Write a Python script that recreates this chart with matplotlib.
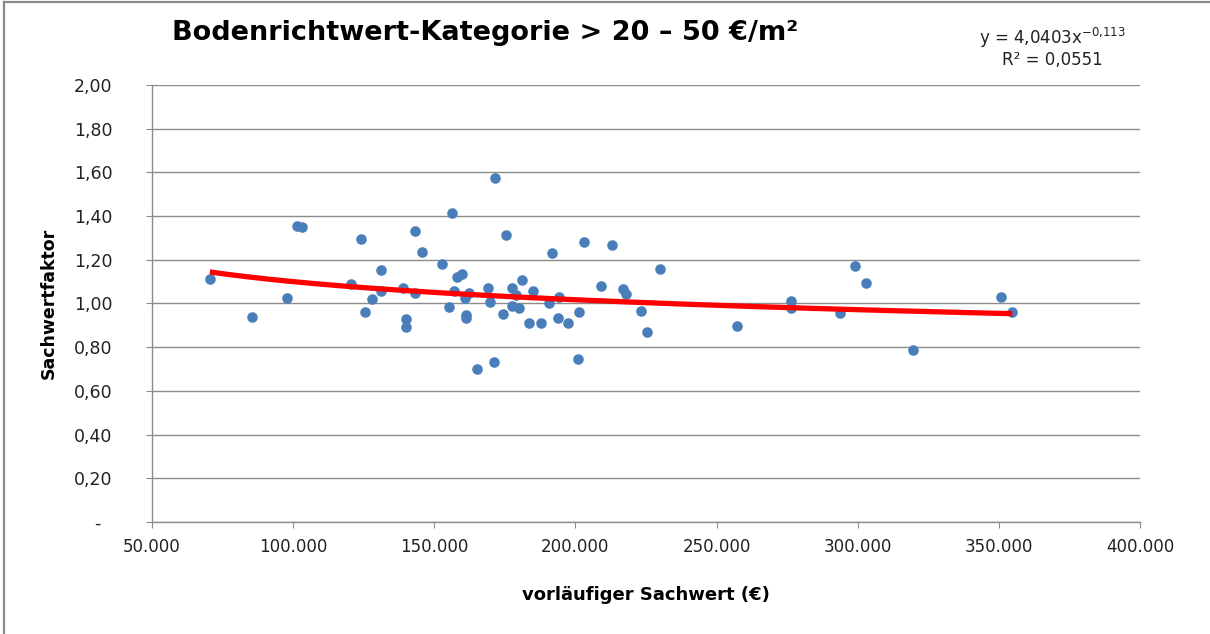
import numpy as np
import matplotlib.pyplot as plt
from matplotlib.ticker import FuncFormatter, MultipleLocator

# vorläufiger Sachwert (EUR) and Sachwertfaktor per Objekt
sachwert = [70500, 85500, 97700, 101200, 103000, 120400, 123900, 125600, 127800,
            131000, 131100, 138800, 140000, 140000, 143200, 143200, 145500, 152600,
            155300, 156100, 157000, 158200, 159700, 160900, 161100, 161200, 162400,
            165200, 169100, 169800, 171100, 171500, 174200, 175400, 177400, 177700,
            179100, 180100, 180900, 183700, 184800, 187800, 190700, 191800, 193900,
            194100, 197400, 200900, 201300, 203200, 209100, 213100, 217000, 217900,
            223400, 225500, 230000, 257200, 276500, 276500, 293700, 299200, 303100,
            319700, 350600, 354800]
faktor = [1.11, 0.94, 1.025, 1.355, 1.35, 1.088, 1.294, 0.96, 1.021,
          1.057, 1.153, 1.072, 0.93, 0.894, 1.33, 1.05, 1.234, 1.182,
          0.985, 1.413, 1.057, 1.123, 1.134, 1.027, 0.932, 0.947, 1.047,
          0.70, 1.069, 1.005, 0.732, 1.573, 0.95, 1.315, 0.989, 1.072,
          1.039, 0.981, 1.108, 0.909, 1.059, 0.909, 1.001, 1.23, 0.935,
          1.031, 0.912, 0.746, 0.96, 1.28, 1.082, 1.269, 1.065, 1.043,
          0.964, 0.868, 1.158, 0.898, 1.013, 0.978, 0.955, 1.173, 1.092,
          0.787, 1.031, 0.961]

# Potenz-Trendlinie y = a * x^b
trend_a = 4.0403
trend_b = -0.113
r2 = 0.0551

title = "Bodenrichtwert-Kategorie > 20 – 50 €/m²"

fig = plt.figure(figsize=(12.1, 6.34), dpi=100)
ax = fig.add_axes([152 / 1210, 112 / 634, 988 / 1210, 437 / 634])

ax.scatter(sachwert, faktor, s=58, color="#4a7ebb", zorder=3, linewidths=0)

xs = np.linspace(min(sachwert), max(sachwert), 200)
ax.plot(xs, trend_a * xs ** trend_b, color="#ff0000", lw=3.8, zorder=4,
        solid_capstyle="butt")

ax.set_xlim(50000, 400000)
ax.set_ylim(0, 2.0)
ax.xaxis.set_major_locator(MultipleLocator(50000))
ax.yaxis.set_major_locator(MultipleLocator(0.2))
ax.xaxis.set_major_formatter(FuncFormatter(lambda v, p: f"{v:,.0f}".replace(",", ".")))
ax.yaxis.set_major_formatter(FuncFormatter(
    lambda v, p: "-  " if abs(v) < 1e-9 else f"{v:.2f}".replace(".", ",")))

grey = "#8c8c8c"
ax.grid(axis="y", color=grey, lw=1.0)
ax.set_axisbelow(True)
for s in ["top", "right"]:
    ax.spines[s].set_visible(False)
for s in ["left", "bottom"]:
    ax.spines[s].set_color(grey)
    ax.spines[s].set_linewidth(1.0)
ax.tick_params(axis="x", length=4.3, color=grey, labelsize=12, pad=7, labelcolor="#222222")
ax.tick_params(axis="y", length=4.3, color=grey, labelsize=12.5, pad=24, labelcolor="#222222")

ax.set_xlabel("vorläufiger Sachwert (€)", fontsize=13, fontweight="bold", labelpad=22)
ax.set_ylabel("Sachwertfaktor", fontsize=12.5, fontweight="bold", labelpad=12)

fig.text(172 / 1210, 1 - 33 / 634, title, fontsize=19.5, fontweight="bold",
         ha="left", va="center")
fig.text(1052 / 1210, 1 - 38 / 634,
         "y = 4,0403x$^{\\mathregular{-0{,}113}}$", fontsize=12, ha="center", va="center",
         color="#222222")
fig.text(1052 / 1210, 1 - 60 / 634, "R² = 0,0551", fontsize=12, ha="center",
         va="center", color="#222222")

# Rahmen des Diagrammbereichs
fig.add_artist(plt.Line2D([4 / 1210, 4 / 1210], [0, 1 - 2 / 634], color="#888888",
                          lw=1.6, transform=fig.transFigure))
fig.add_artist(plt.Line2D([4 / 1210, 0.999], [1 - 2 / 634, 1 - 2 / 634], color="#888888",
                          lw=1.6, transform=fig.transFigure))

fig.savefig("out.png", dpi=100)
